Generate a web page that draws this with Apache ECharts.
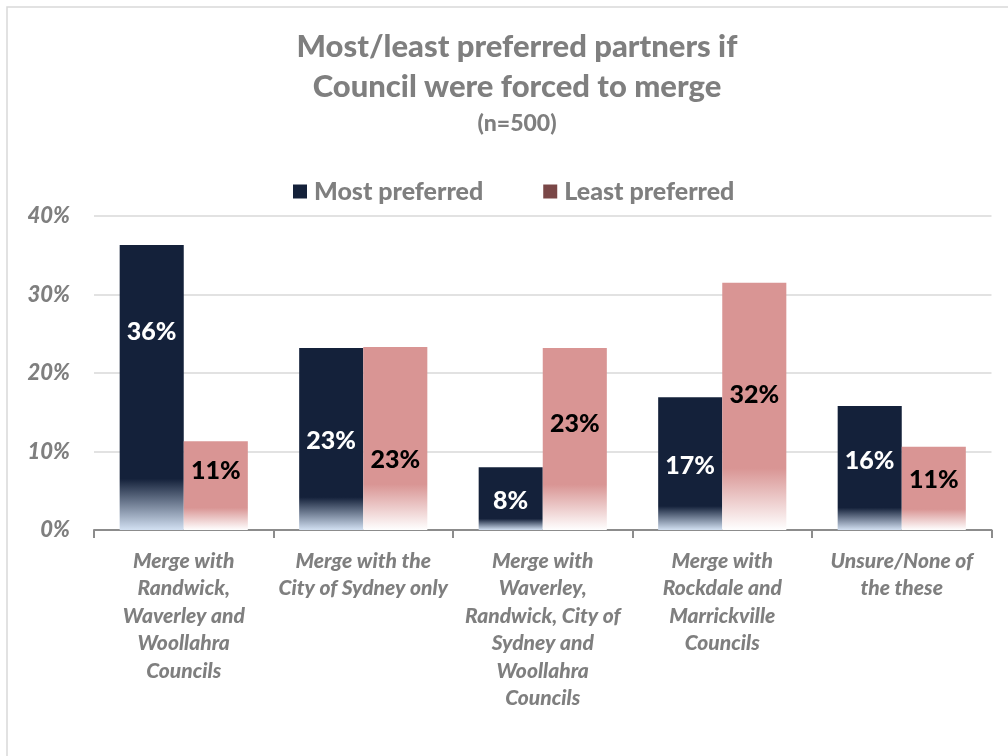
<!DOCTYPE html>
<html>
<head>
<meta charset="utf-8">
<script src="https://cdn.jsdelivr.net/npm/echarts@6/dist/echarts.min.js"></script>
<style>
html,body{margin:0;padding:0;background:#fff;}
#chart{width:1008px;height:756px;}
</style>
</head>
<body>
<div id="chart"></div>
<script>
const categories = [
  "Merge with\nRandwick,\nWaverley and\nWoollahra\nCouncils",
  "Merge with the\nCity of Sydney only",
  "Merge with\nWaverley,\nRandwick, City of\nSydney and\nWoollahra\nCouncils",
  "Merge with\nRockdale and\nMarrickville\nCouncils",
  "Unsure/None of\nthe these"
];
const mostPreferred = [36.3, 23.2, 8.0, 16.9, 15.8];
const leastPreferred = [11.3, 23.3, 23.2, 31.5, 10.6];
const mostLabels = ["36%", "23%", "8%", "17%", "16%"];
const leastLabels = ["11%", "23%", "23%", "32%", "11%"];
const yTicks = [0, 10, 20, 30, 40];

// label vertical offsets (styling only)
const mostLabelOffsets = [-56, 2, 2, 2, -7];
const leastLabelOffsets = [-15, 21, -15, -11, -8];

const FONT = 'Lato, "Open Sans", sans-serif';
const GRAY = '#7f7f7f';
const NAVY = '#14213a';
const PINK = '#d99594';

const chart = echarts.init(document.getElementById('chart'), null, {renderer: 'canvas'});

function navyGrad() {
  return new echarts.graphic.LinearGradient(0, 0, 0, 1, [
    {offset: 0, color: NAVY},
    {offset: 0.82, color: NAVY},
    {offset: 1, color: '#d2e0f2'}
  ]);
}
function pinkGrad() {
  return new echarts.graphic.LinearGradient(0, 0, 0, 1, [
    {offset: 0, color: PINK},
    {offset: 0.75, color: PINK},
    {offset: 1, color: '#ffffff'}
  ]);
}

const option = {
  backgroundColor: '#ffffff',
  animation: false,
  graphic: [{
    type: 'rect',
    shape: {x: 7, y: 7, width: 1200, height: 900},
    style: {fill: 'none', stroke: '#d9d9d9', lineWidth: 1.5},
    silent: true
  }],
  title: {
    text: 'Most/least preferred partners if\nCouncil were forced to merge',
    subtext: '(n=500)',
    left: 512,
    textAlign: 'center',
    top: 22,
    itemGap: 4,
    textStyle: {
      fontFamily: FONT, fontWeight: 900, fontSize: 31, color: GRAY, lineHeight: 40
    },
    subtextStyle: {
      fontFamily: FONT, fontWeight: 900, fontSize: 23, color: GRAY, lineHeight: 26
    }
  },
  legend: {
    left: 288,
    top: 174,
    itemWidth: 14,
    itemHeight: 14,
    itemGap: 60,
    icon: 'rect',
    textStyle: {fontFamily: FONT, fontWeight: 900, fontSize: 25, color: GRAY, padding: [0, 0, 0, 2]},
    data: [
      {name: 'Most preferred', itemStyle: {color: NAVY}},
      {name: 'Least preferred', itemStyle: {color: '#7a4747'}}
    ]
  },
  grid: {left: 94, right: 16.5, top: 216, bottom: 226, containLabel: false},
  xAxis: {
    type: 'category',
    data: categories,
    axisLine: {lineStyle: {color: '#8c8c8c', width: 2}},
    axisTick: {show: true, length: 8, lineStyle: {color: '#8c8c8c', width: 2}},
    axisLabel: {
      interval: 0,
      margin: 17,
      fontFamily: FONT, fontWeight: 900, fontStyle: 'italic', fontSize: 21,
      color: GRAY, lineHeight: 27.5
    },
    splitLine: {show: false}
  },
  yAxis: {
    type: 'value',
    min: yTicks[0],
    max: yTicks[yTicks.length - 1],
    interval: yTicks[1] - yTicks[0],
    axisLine: {show: false},
    axisTick: {show: false},
    axisLabel: {
      formatter: '{value}%',
      margin: 24,
      fontFamily: FONT, fontWeight: 900, fontStyle: 'italic', fontSize: 22, color: GRAY
    },
    splitLine: {lineStyle: {color: '#d9d9d9', width: 1.5}}
  },
  series: [
    {
      name: 'Most preferred',
      type: 'bar',
      barGap: '0%',
      barCategoryGap: '28.6%',
      itemStyle: {color: navyGrad()},
      data: mostPreferred.map((v, i) => ({
        value: v,
        label: {
          show: true, position: 'inside', offset: [0, mostLabelOffsets[i]],
          formatter: mostLabels[i],
          fontFamily: FONT, fontWeight: 900, fontSize: 25, color: '#ffffff'
        }
      }))
    },
    {
      name: 'Least preferred',
      type: 'bar',
      barGap: '0%',
      barCategoryGap: '28.6%',
      itemStyle: {color: pinkGrad()},
      data: leastPreferred.map((v, i) => ({
        value: v,
        label: {
          show: true, position: 'inside', offset: [0, leastLabelOffsets[i]],
          formatter: leastLabels[i],
          fontFamily: FONT, fontWeight: 900, fontSize: 25, color: '#000000'
        }
      }))
    }
  ]
};
chart.setOption(option);
</script>
</body>
</html>
